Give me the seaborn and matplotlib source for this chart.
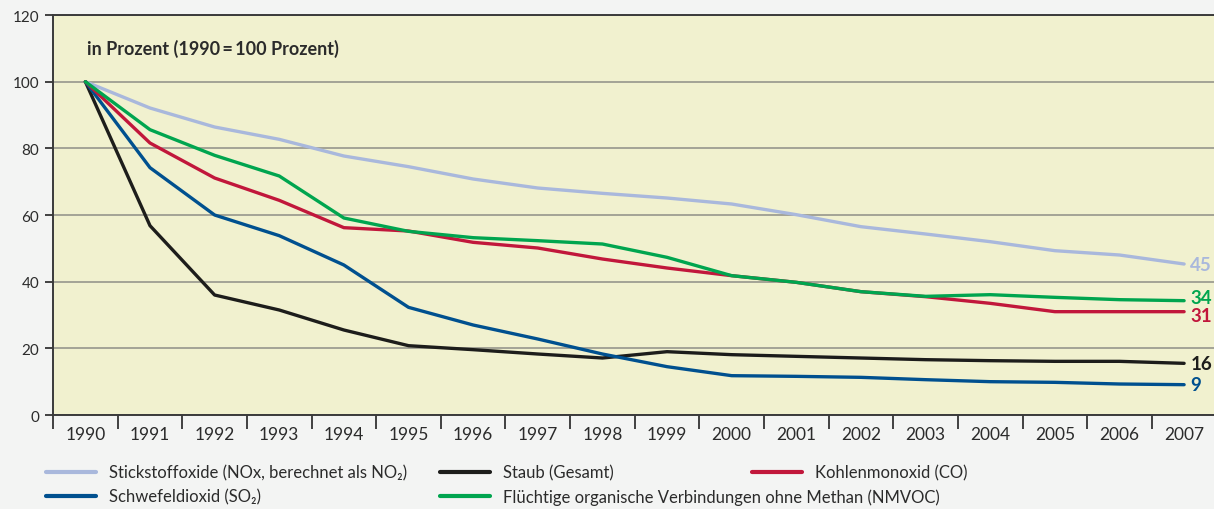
import matplotlib
matplotlib.use("Agg")
import matplotlib.pyplot as plt
from matplotlib.lines import Line2D
import numpy as np
import pandas as pd
import seaborn as sns

# Werte in Prozent (1990 = 100)
years = list(range(1990, 2008))
nox = [100, 92.1, 86.4, 82.7, 77.7, 74.5, 70.8, 68.1, 66.5, 65.1, 63.3, 60.1, 56.5, 54.3, 52.0, 49.3, 48.0, 45.3]
so2 = [100, 74.2, 60.0, 53.8, 45.0, 32.3, 27.0, 22.8, 18.3, 14.5, 11.8, 11.6, 11.3, 10.6, 10.0, 9.8, 9.3, 9.1]
staub = [100, 56.8, 36.0, 31.5, 25.5, 20.8, 19.6, 18.3, 17.1, 19.0, 18.1, 17.6, 17.1, 16.6, 16.3, 16.1, 16.1, 15.5]
nmvoc = [100, 85.6, 77.9, 71.7, 59.1, 55.1, 53.2, 52.3, 51.3, 47.3, 41.8, 39.8, 37.0, 35.6, 36.1, 35.3, 34.6, 34.3]
co = [100, 81.6, 71.1, 64.4, 56.2, 55.2, 51.8, 50.1, 46.8, 44.1, 41.8, 39.8, 37.0, 35.5, 33.5, 31.0, 31.0, 31.0]

series_names = [
    "Stickstoffoxide (NOx, berechnet als NO\u2082)",
    "Schwefeldioxid (SO\u2082)",
    "Staub (Gesamt)",
    "Flüchtige organische Verbindungen ohne Methan (NMVOC)",
    "Kohlenmonoxid (CO)",
]
series_values = [nox, so2, staub, nmvoc, co]
end_labels = ["45", "9", "16", "34", "31"]
label_nudge = [0, 0, 0, 2.5, -2.5]  # Punkte, damit 34 und 31 sich nicht berühren
colors = ["#a9b8dc", "#00508f", "#1d1d1b", "#00a54f", "#c1173b"]

df = pd.concat(
    [pd.DataFrame({"Jahr": years, "Wert": v, "Schadstoff": n}) for n, v in zip(series_names, series_values)],
    ignore_index=True,
)

sns.set_style("white")
plt.rcParams["font.family"] = ["Lato", "DejaVu Sans"]
text_col = "#2b2b2b"

fig = plt.figure(figsize=(12.14, 5.10), dpi=100, facecolor="#f3f4f3")
ax = fig.add_axes([0.0437, 0.1843, 0.9583, 0.7843])
ax.set_facecolor("#f1f1cf")

draw_order = [0, 2, 1, 4, 3]  # NOx zuerst, NMVOC zuletzt (oben)
sns.lineplot(
    data=df, x="Jahr", y="Wert", hue="Schadstoff", hue_order=[series_names[i] for i in draw_order],
    palette=[colors[i] for i in draw_order], linewidth=2.4, ax=ax, legend=False,
)
for ln in ax.lines:
    ln.set_solid_joinstyle("round")

ax.set_xlim(1989.5, 2007.5)
ax.set_ylim(0, 120)
ax.set_xlabel("")
ax.set_ylabel("")

ax.set_xticks(years)
ax.set_xticklabels([str(y) for y in years], fontsize=12.5, color=text_col)
ax.set_xticks(np.arange(1989.5, 2008, 1), minor=True)
ax.tick_params(axis="x", which="major", bottom=True, length=0, pad=8)
ax.tick_params(axis="x", which="minor", bottom=True, length=10, width=1.3, color="#333333", direction="out")
ax.set_yticks(range(0, 121, 20))
ax.tick_params(axis="y", which="major", left=True, length=6, width=1.3, color="#333333", labelsize=11,
               labelcolor=text_col, pad=4, direction="out")

ax.yaxis.grid(True, color="#9d9d92", linewidth=1.3)
ax.xaxis.grid(False)
ax.set_axisbelow(True)

for side in ["left", "bottom", "top"]:
    ax.spines[side].set_visible(True)
    ax.spines[side].set_color("#3a3a3a")
    ax.spines[side].set_linewidth(1.4)
ax.spines["right"].set_visible(False)

ax.text(0.029, 0.918, "in Prozent (1990\u2009=\u2009100 Prozent)", transform=ax.transAxes,
        fontsize=13, fontweight="bold", color=text_col, va="center", ha="left")

for vals, lab, col, nud in zip(series_values, end_labels, colors, label_nudge):
    ax.annotate(lab, xy=(years[-1], vals[-1]), xytext=(4.5, nud), textcoords="offset points",
                fontsize=13.5, fontweight="bold", color=col, va="center", ha="left",
                annotation_clip=False)


def handle(i):
    return Line2D([], [], color=colors[i], linewidth=3)


leg_kw = dict(frameon=False, fontsize=12, handlelength=3.0, handletextpad=0.8,
              labelspacing=0.45, labelcolor=text_col, borderaxespad=0)
fig.legend([handle(0), handle(1)], [series_names[0], series_names[1]],
           loc="upper left", bbox_to_anchor=(0.032, 0.1), **leg_kw)
fig.legend([handle(2), handle(3)], [series_names[2], series_names[3]],
           loc="upper left", bbox_to_anchor=(0.357, 0.1), **leg_kw)
fig.legend([handle(4)], [series_names[4]],
           loc="upper left", bbox_to_anchor=(0.614, 0.1), **leg_kw)

fig.savefig("out.png", dpi=100, facecolor=fig.get_facecolor())
